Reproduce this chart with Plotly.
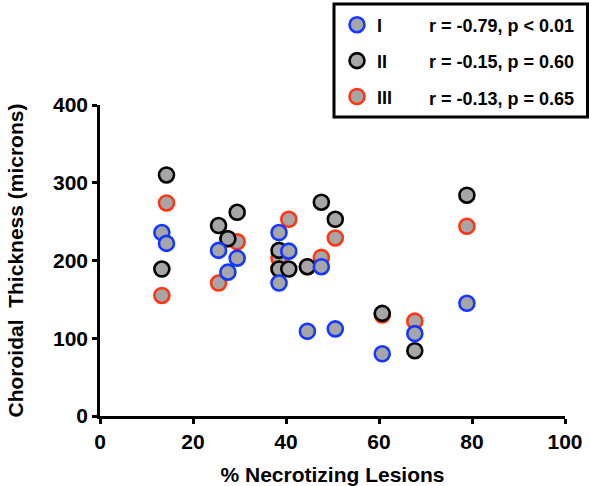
import plotly.graph_objects as go

# ---- data ----
x_lesions = [13.3, 14.3, 25.5, 27.5, 29.5, 38.5, 38.5, 40.6, 44.6, 47.6, 50.6, 60.7, 67.7, 78.9]
thick_I   = [236, 222, 213, 185, 203, 236, 171, 212, 109, 192, 112, 80, 106, 145]
thick_II  = [189, 310, 245, 228, 262, 213, 189, 189, 192, 275, 253, 132, 84, 284]
thick_III = [155, 274, 171, 228, 224, 203, 189, 253, 192, 204, 229, 130, 122, 244]

group_names = ["I", "II", "III"]
group_stats = ["r = -0.79, p < 0.01", "r = -0.15, p = 0.60", "r = -0.13, p = 0.65"]
group_colors = ["#1438ff", "#000000", "#ff3514"]

x_ticks = [0, 20, 40, 60, 80, 100]
y_ticks = [0, 100, 200, 300, 400]

FONT = "Liberation Sans, Arial, Helvetica, sans-serif"
FILL = "#a6a6a6"

fig = go.Figure()
series = [thick_I, thick_II, thick_III]
# draw order: III (bottom), II, I (top)
for idx in [2, 1, 0]:
    fig.add_trace(go.Scatter(
        x=x_lesions, y=series[idx], mode="markers", name=group_names[idx],
        legendgroup=group_names[idx], legendrank=idx + 1,
        marker=dict(size=15, color=FILL, line=dict(color=group_colors[idx], width=2.6)),
        cliponaxis=False,
    ))

L, R, T, B = 100, 24, 105, 70
W, H = 589, 486
PW, PH = W - L - R, H - T - B

def px_x(p):
    return (p - L) / PW

def px_y(p):
    return (H - B - p) / PH

fig.update_layout(
    width=W, height=H,
    margin=dict(l=L, r=R, t=T, b=B, autoexpand=False),
    paper_bgcolor="white", plot_bgcolor="white",
    font=dict(family=FONT, color="black"),
    showlegend=True,
    legend=dict(
        x=px_x(337), y=px_y(6.5), xanchor="left", yanchor="top",
        bgcolor="rgba(0,0,0,0)", borderwidth=0,
        font=dict(family=FONT, size=18, weight="bold", color="black"),
        traceorder="grouped", tracegroupgap=9.5,
    ),
    xaxis=dict(
        range=[0, 100], tickvals=x_ticks, ticktext=[str(v) for v in x_ticks],
        showline=True, linecolor="black", linewidth=2.5,
        ticks="outside", ticklen=5, tickwidth=2.5, tickcolor="black",
        showgrid=False, zeroline=False,
        tickfont=dict(family=FONT, size=21, weight="bold"),
        title=dict(text="% Necrotizing Lesions", standoff=20,
                   font=dict(family=FONT, size=21, weight="bold")),
    ),
    yaxis=dict(
        range=[0, 400], tickvals=y_ticks, ticktext=[str(v) for v in y_ticks],
        showline=True, linecolor="black", linewidth=2.5,
        ticks="outside", ticklen=5, tickwidth=2.5, tickcolor="black",
        showgrid=False, zeroline=False,
        tickfont=dict(family=FONT, size=21, weight="bold"),
        title=dict(text="Choroidal\u00a0 Thickness (microns)", standoff=24,
                   font=dict(family=FONT, size=21, weight="bold")),
    ),
)

# legend frame
fig.add_shape(type="rect", xref="paper", yref="paper",
              x0=px_x(334), x1=px_x(587.5), y0=px_y(117), y1=px_y(4),
              line=dict(color="black", width=3), fillcolor="rgba(0,0,0,0)", layer="above")

row_y = [26, 62, 99]
for s, ry in zip(group_stats, row_y):
    fig.add_annotation(text=s, xref="paper", yref="paper", x=px_x(427), y=px_y(ry),
                       xanchor="left", yanchor="middle", showarrow=False,
                       font=dict(family=FONT, size=18, weight="bold", color="black"))

fig.write_html("out.html")
